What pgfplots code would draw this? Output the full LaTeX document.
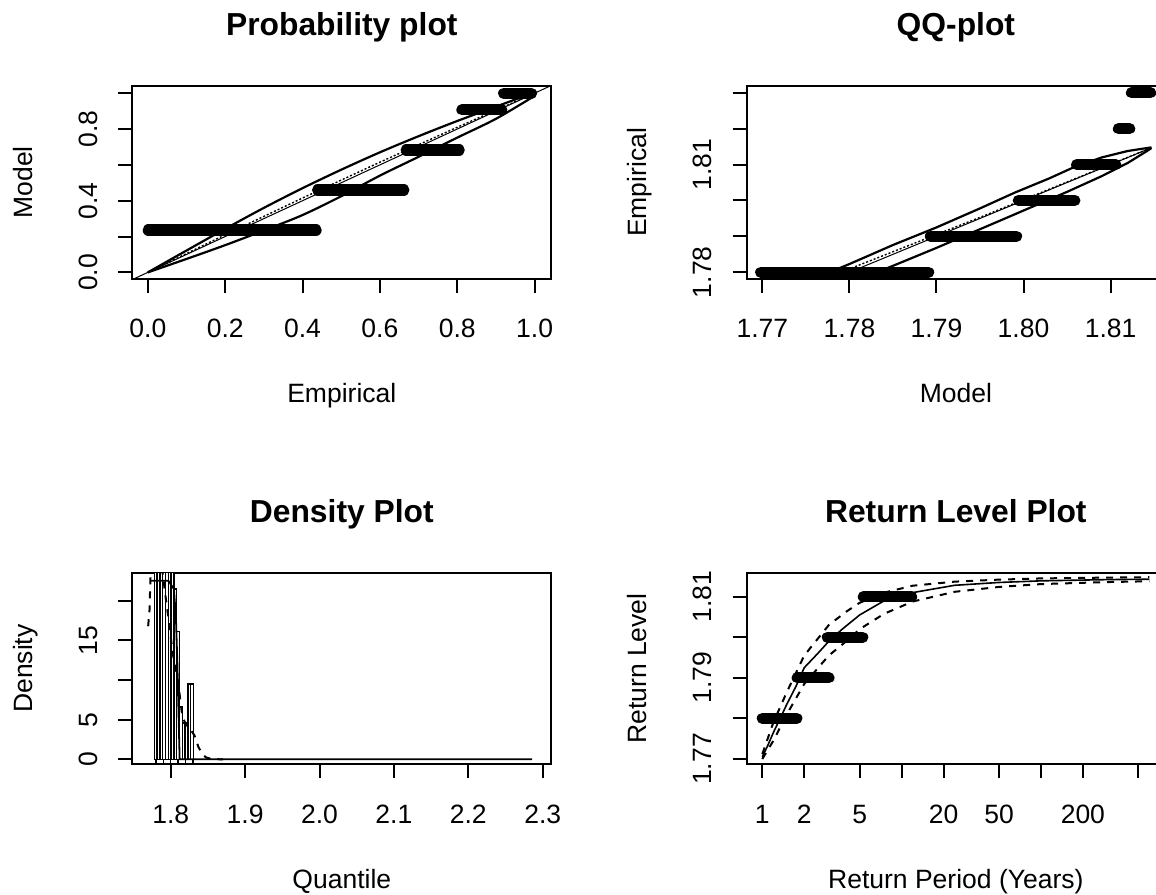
\documentclass[border=0pt]{standalone}
\usepackage{fontspec}
\setmainfont{Liberation Sans}
\usepackage{pgfplots}
\pgfplotsset{compat=1.18}

\newcommand{\lblfont}{\fontsize{13.25}{16}\selectfont}
\newcommand{\ttlfont}{\fontsize{15.9}{19}\selectfont\bfseries}

% one R-style panel: box, outside ticks, labels placed by their baselines
\pgfplotsset{
  rpanel/.style={
    scale only axis, anchor=south west, width=209.4pt,
    axis line style={line width=1pt},
    tick pos=left, tick align=outside, major tick length=7pt,
    every tick/.style={black, line width=1pt},
    minor tick num=0,
    every tick label/.append style={font=\lblfont},
    every x tick label/.style={anchor=base, yshift=-22.5pt},
    every y tick label/.style={xshift=-10.5pt, rotate=90, anchor=base},
    every axis title/.style={at={(axis description cs:0.5,1)}, yshift=25.2pt, anchor=base, font=\ttlfont},
    every axis x label/.style={at={(axis description cs:0.5,0)}, yshift=-62pt, anchor=base, font=\lblfont},
    every axis y label/.style={at={(axis description cs:0,0.5)}, xshift=-50pt, rotate=90, anchor=base, font=\lblfont},
  },
  rpts/.style={black, line width=5.6pt, line cap=round},
  rband/.style={black, line width=1.1pt, line join=round},
  rdash/.style={black, line width=1pt, dash pattern=on 3.5pt off 3.5pt},
}

\begin{document}
\begin{tikzpicture}
\path[use as bounding box] (0,0) rectangle (578pt,447pt);
\clip (0,0) rectangle (578pt,447pt);

% ---------------- Probability plot
\begin{axis}[rpanel, at={(66.2pt,307.5pt)}, height=96.65pt,
  xmin=-0.04, xmax=1.043, ymin=-0.037, ymax=1.042,
  xtick={0,0.2,0.4,0.6,0.8,1}, xticklabels={0.0,0.2,0.4,0.6,0.8,1.0},
  ytick={0,0.2,0.4,0.6,0.8,1}, yticklabels={0.0,{},0.4,{},0.8,{}},
  title={Probability plot}, xlabel={Empirical}, ylabel={Model}]
\addplot[black, line width=0.5pt] coordinates {(-0.04,-0.04) (1.043,1.043)};
\addplot[black, line width=0.7pt, dash pattern=on 1pt off 1pt] coordinates {
  (0,0) (0.2,0.21) (0.4,0.415) (0.6,0.615) (0.8,0.81) (1.0,1.0)};
\addplot[rband, smooth] coordinates {
  (0,0) (0.1,0.122) (0.2,0.243) (0.3,0.36) (0.4,0.47) (0.5,0.573)
  (0.6,0.67) (0.7,0.76) (0.8,0.845) (0.9,0.925) (1.0,1.005)};
\addplot[rband, smooth] coordinates {
  (0,0) (0.1,0.075) (0.2,0.152) (0.3,0.234) (0.4,0.32) (0.5,0.425)
  (0.6,0.54) (0.7,0.645) (0.8,0.752) (0.9,0.857) (1.0,0.985)};
\addplot[rpts] coordinates {(0.001,0.236) (0.435,0.236)};
\addplot[rpts] coordinates {(0.439,0.46) (0.662,0.46)};
\addplot[rpts] coordinates {(0.668,0.683) (0.805,0.683)};
\addplot[rpts] coordinates {(0.812,0.907) (0.915,0.907)};
\addplot[rpts] coordinates {(0.92,0.999) (0.992,0.999)};
\end{axis}

% ---------------- QQ-plot
\begin{axis}[rpanel, at={(373.25pt,307.5pt)}, width=209.35pt, height=96.65pt,
  xmin=1.76817, xmax=1.81628, ymin=1.77813, ymax=1.83198,
  xtick={1.77,1.78,1.79,1.80,1.81}, xticklabels={1.77,1.78,1.79,1.80,1.81},
  ytick={1.78,1.79,1.80,1.81,1.82,1.83}, yticklabels={1.78,{},{},1.81,{},{}},
  title={QQ-plot}, xlabel={Model}, ylabel={Empirical}]
\addplot[black, line width=0.5pt] coordinates {(1.778,1.778) (1.8147,1.8147)};
\addplot[black, line width=0.7pt, dash pattern=on 1pt off 1pt] coordinates {
  (1.7785,1.7795) (1.7950,1.7953) (1.8147,1.8147)};
\addplot[rband] coordinates {
  (1.7775,1.7798) (1.7800,1.7823) (1.7850,1.7876) (1.7900,1.7925) (1.7950,1.7978)
  (1.7990,1.8022) (1.8030,1.8062) (1.8059,1.8094) (1.8090,1.8120) (1.8120,1.8138) (1.8147,1.8148)};
\addplot[rband] coordinates {
  (1.7810,1.7780) (1.7850,1.7818) (1.7900,1.7868) (1.7950,1.7920) (1.8000,1.7972)
  (1.8050,1.8024) (1.8090,1.8068) (1.8120,1.8105) (1.8140,1.8135) (1.8147,1.8146)};
\addplot[rpts] coordinates {(1.7698,1.78) (1.7891,1.78)};
\addplot[rpts] coordinates {(1.7893,1.79) (1.7992,1.79)};
\addplot[rpts] coordinates {(1.7994,1.80) (1.8059,1.80)};
\addplot[rpts] coordinates {(1.8061,1.81) (1.8106,1.81)};
\addplot[rpts] coordinates {(1.8109,1.82) (1.8122,1.82)};
\addplot[rpts] coordinates {(1.8124,1.83) (1.8146,1.83)};
\end{axis}

% ---------------- Density Plot
\begin{axis}[rpanel, at={(66.2pt,65pt)}, height=95.35pt,
  xmin=1.74852, xmax=2.31142, ymin=-0.59, ymax=23.48,
  xtick={1.8,1.9,2.0,2.1,2.2,2.3}, xticklabels={1.8,1.9,2.0,2.1,2.2,2.3},
  ytick={0,5,10,15,20}, yticklabels={0,5,{},15,{}},
  title={Density Plot}, xlabel={Quantile}, ylabel={Density}]
\addplot[ybar interval, fill=white, draw=black, line width=0.7pt] coordinates {
  (1.7780,40) (1.7818,40) (1.7855,40) (1.7893,40) (1.7930,40) (1.7968,40)
  (1.8005,40) (1.8043,21.5) (1.8080,16.1) (1.8118,6.7) (1.8155,4.6)
  (1.8193,4.6) (1.8230,9.5) (1.8268,9.5) (1.8305,0)};
\addplot[black, line width=0.9pt] coordinates {
  (1.7722,22.55) (1.7968,22.55) (1.8043,21.5) (1.8070,18) (1.8090,12)
  (1.8105,6) (1.8115,2) (1.8120,0) (2.2857,0)};
\addplot[rdash] coordinates {
  (1.7697,16.8) (1.7715,18.8) (1.7725,22) (1.7740,26) (1.7770,30) (1.7810,30)
  (1.7860,26) (1.7923,21.1) (1.7977,17.3) (1.8027,13.4) (1.8102,9.6) (1.8156,5.4)
  (1.8215,4.2) (1.8270,3.7) (1.8320,3.0) (1.8371,1.6) (1.8420,0.7) (1.8474,0.25)
  (1.8550,0.03) (1.8700,0)};
\addplot[ycomb, black, line width=0.7pt, mark=none] coordinates {
  (1.78,-0.59) (1.79,-0.59) (1.80,-0.59) (1.81,-0.59) (1.82,-0.59) (1.83,-0.59)};
\end{axis}

% ---------------- Return Level Plot
\begin{axis}[rpanel, at={(373.25pt,65pt)}, width=209.35pt, height=95.35pt,
  xmode=log, xmin=0.7702, xmax=779.8, ymin=1.76877, ymax=1.81576,
  xtick={1,2,5,10,20,50,100,200,500}, xticklabels={1,2,5,{},20,50,{},200,{}},
  minor xtick={},
  ytick={1.77,1.78,1.79,1.80,1.81}, yticklabels={1.77,{},1.79,{},1.81},
  title={Return Level Plot}, xlabel={Return Period (Years)}, ylabel={Return Level}]
\addplot[black, line width=0.8pt] coordinates {
  (1.0,1.7705) (1.1,1.7735) (1.2,1.7765) (1.3,1.7790) (1.5,1.7835) (1.75,1.7880)
  (2.0,1.7925) (2.5,1.7960) (3.0,1.7990) (3.75,1.8020) (5.0,1.8055) (7.5,1.8090)
  (12,1.8110) (24,1.8128) (50,1.8135) (100,1.8139) (300,1.8142) (600,1.8143)};
\addplot[rdash] coordinates {
  (1.0,1.7712) (1.2,1.7790) (1.5,1.7865) (2.0,1.7955) (3.0,1.8030) (4.0,1.8063)
  (5.0,1.8085) (7.5,1.8110) (12,1.8127) (24,1.8137) (50,1.8142) (100,1.8145)
  (300,1.8147) (600,1.8148)};
\addplot[rdash] coordinates {
  (1.0,1.7700) (1.2,1.7745) (1.5,1.7810) (2.0,1.7885) (3.0,1.7955) (4.0,1.7990)
  (5.0,1.8020) (7.5,1.8058) (12,1.8088) (24,1.8112) (50,1.8124) (100,1.8131)
  (300,1.8136) (600,1.8138)};
\addplot[rpts] coordinates {(1.0,1.78) (1.77,1.78)};
\addplot[rpts] coordinates {(1.78,1.79) (3.01,1.79)};
\addplot[rpts] coordinates {(2.93,1.80) (5.26,1.80)};
\addplot[rpts] coordinates {(5.31,1.81) (11.8,1.81)};
\end{axis}
\end{tikzpicture}
\end{document}
